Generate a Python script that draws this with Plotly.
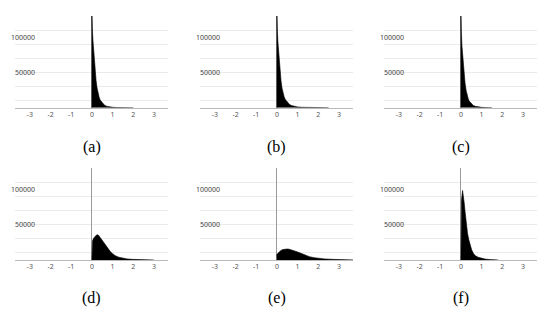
import plotly.graph_objects as go

# ---- data ----
panel_labels = ["(a)", "(b)", "(c)", "(d)", "(e)", "(f)"]
x_ticks = [-3, -2, -1, 0, 1, 2, 3]
y_labels = [50000, 100000]
y_grid = [10000, 30000, 50000, 70000, 90000, 110000, 130000]

xa = [0, 0, 0.02, 0.05, 0.1, 0.15, 0.2, 0.25, 0.3, 0.35, 0.4, 0.5, 0.6, 0.7, 0.8, 1.0, 1.2, 1.5, 2.0]
ya = [0, 135000, 112000, 96000, 72000, 53000, 39000, 28000, 20000, 15000, 11000, 6500, 3800, 2200, 1400, 600, 250, 100, 0]

xb = [0, 0, 0.02, 0.05, 0.1, 0.15, 0.2, 0.25, 0.3, 0.35, 0.4, 0.5, 0.6, 0.7, 0.8, 1.0, 1.2, 1.5, 2.0, 2.5]
yb = [0, 135000, 110000, 93000, 70000, 51000, 38000, 27500, 20500, 15500, 12000, 7500, 4800, 3200, 2200, 1100, 600, 250, 90, 0]

xc = [0, 0, 0.02, 0.05, 0.1, 0.15, 0.2, 0.25, 0.3, 0.35, 0.4, 0.5, 0.6, 0.7, 0.8, 1.0, 1.2, 1.5]
yc = [0, 135000, 108000, 88000, 66000, 48000, 35000, 25000, 18000, 13000, 9500, 5500, 3200, 1900, 1200, 500, 200, 0]

xd = [0, 0, 0.03, 0.08, 0.15, 0.22, 0.27, 0.33, 0.4, 0.48, 0.55, 0.65, 0.75, 0.89, 1.0, 1.13, 1.3, 1.45, 1.7, 1.95, 2.2, 2.5, 3.0]
yd = [0, 24000, 27000, 31000, 34000, 35500, 36000, 35000, 32000, 28500, 25500, 21000, 17000, 12000, 9000, 6200, 4000, 2800, 1600, 900, 500, 250, 0]

xe = [0, 0, 0.05, 0.1, 0.18, 0.28, 0.4, 0.5, 0.6, 0.72, 0.84, 1.0, 1.16, 1.35, 1.57, 1.8, 1.98, 2.3, 2.64, 3.0, 3.4, 3.68]
ye = [0, 8100, 9500, 11000, 13300, 14800, 15600, 15700, 15300, 14400, 13300, 11500, 9500, 7200, 4800, 3300, 2400, 1600, 1000, 600, 300, 150]

xf = [0, 0, 0.03, 0.08, 0.12, 0.16, 0.2, 0.24, 0.28, 0.32, 0.38, 0.44, 0.52, 0.6, 0.7, 0.84, 1.0, 1.16, 1.4, 1.8]
yf = [0, 71000, 86000, 99000, 92000, 81000, 69000, 57000, 47000, 38000, 29000, 21400, 14500, 9500, 6000, 3800, 2200, 1400, 600, 0]

series_x = [xa, xb, xc, xd, xe, xf]
series_y = [ya, yb, yc, yd, ye, yf]

# ---- layout geometry ----
W, H = 550, 313
col_px = [(15, 168), (200, 353), (384, 537)]
row_px = [(16, 107.7), (168.3, 260)]
title_y_px = [147, 298]

fig = go.Figure()
layout = dict(width=W, height=H, margin=dict(l=0, r=0, t=0, b=0),
              paper_bgcolor="white", plot_bgcolor="white", showlegend=False)
annotations = []

for i in range(6):
    r, c = divmod(i, 3)
    n = i + 1
    xs = "" if n == 1 else str(n)
    x0, x1 = col_px[c]
    yt, yb_ = row_px[r]
    fig.add_trace(go.Scatter(
        x=series_x[i], y=series_y[i], mode="lines",
        line=dict(color="black", width=0.6),
        fill="tozeroy", fillcolor="black",
        xaxis="x" + xs, yaxis="y" + xs, hoverinfo="skip"))
    layout["xaxis" + xs] = dict(
        domain=[x0 / W, x1 / W], range=[-3.72, 3.68], anchor="y" + xs,
        tickvals=x_ticks, ticktext=[str(t) for t in x_ticks],
        showgrid=False, zeroline=True, zerolinecolor="#9a9a9a", zerolinewidth=1,
        showline=True, linecolor="#b8b8b8", linewidth=1, ticks="",
        tickfont=dict(family="Noto Sans", size=7, color="#555555"),
        fixedrange=True)
    layout["yaxis" + xs] = dict(
        domain=[1 - yb_ / H, 1 - yt / H], range=[0, 130500], anchor="x" + xs,
        tickvals=y_grid, showticklabels=False, showgrid=True,
        gridcolor="#ebebeb", gridwidth=1, zeroline=False, ticks="",
        fixedrange=True)
    for v in y_labels:
        annotations.append(dict(
            xref="x" + xs + " domain", yref="y" + xs, x=22 / 153, y=v,
            text=str(v), showarrow=False, xanchor="right", yanchor="middle",
            font=dict(family="Noto Sans", size=7, color="#444444")))
    annotations.append(dict(
        xref="x" + xs, yref="paper", x=0, y=1 - title_y_px[r] / H,
        text=panel_labels[i], showarrow=False, xanchor="center", yanchor="middle",
        font=dict(family="Liberation Serif", size=16, color="black")))

layout["annotations"] = annotations
fig.update_layout(**layout)
fig.write_html("out.html")
